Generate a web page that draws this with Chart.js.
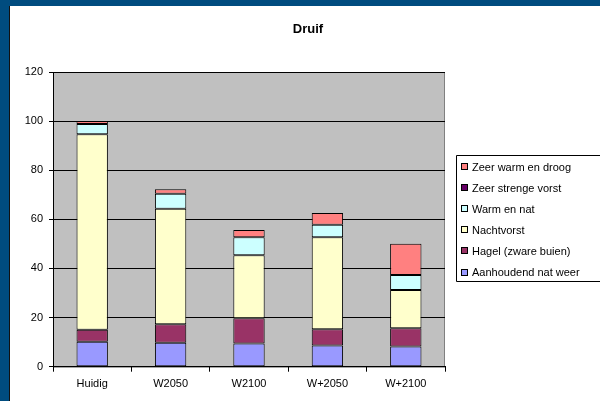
<!DOCTYPE html>
<html>
<head>
<meta charset="utf-8">
<script src="https://cdn.jsdelivr.net/npm/chart.js@4/dist/chart.umd.min.js"></script>
<style>
  html, body { margin: 0; padding: 0; background: #004c7f; overflow: hidden; width: 600px; height: 401px; }
  #frame { position: absolute; left: 9px; top: 6px; width: 591px; height: 395px; background: #fff; border-left: 1px solid #111; overflow: hidden; }
  #wrap { position: absolute; left: 0; top: 0; width: 591px; height: 395px; }
</style>
</head>
<body>
<div id="frame"><div id="wrap"><canvas id="chart"></canvas></div></div>
<script>
// categories and series
const categories = ['Huidig', 'W2050', 'W2100', 'W+2050', 'W+2100'];
const aanhoudendNat = [10.2, 9.8, 9.4, 8.6, 8.2];
const hagel = [4.8, 7.5, 10.3, 6.6, 7.5];
const nachtvorst = [79.7, 47.0, 25.7, 37.5, 15.5];
const warmNat = [4.1, 6.1, 7.3, 5.1, 6.1];
const zeerStrengeVorst = [0, 0, 0, 0, 0];
const zeerWarmDroog = [1.2, 1.9, 3.0, 4.8, 12.8];
const yTicks = [0, 20, 40, 60, 80, 100, 120];

const FONT = 'Arial, "Liberation Sans", sans-serif';

const series = [
    { label: 'Aanhoudend nat weer', data: aanhoudendNat, color: '#9999ff' },
    { label: 'Hagel (zware buien)', data: hagel, color: '#993366' },
    { label: 'Nachtvorst', data: nachtvorst, color: '#ffffcc' },
    { label: 'Warm en nat', data: warmNat, color: '#ccffff' },
    { label: 'Zeer strenge vorst', data: zeerStrengeVorst, color: '#660066' },
    { label: 'Zeer warm en droog', data: zeerWarmDroog, color: '#ff8080' },
];

// grey plot area, title and boxed legend
const excelLook = {
    id: 'excelLook',
    beforeDraw(chart) {
        const { ctx, chartArea: a } = chart;
        ctx.save();
        ctx.fillStyle = '#c0c0c0';
        ctx.fillRect(a.left, a.top, a.right - a.left, a.bottom - a.top);
        ctx.strokeStyle = '#808080';
        ctx.lineWidth = 1;
        ctx.strokeRect(a.left + 0.5, a.top + 0.5, a.right - a.left - 1, a.bottom - a.top);
        ctx.restore();
    },
    afterDraw(chart) {
        const ctx = chart.ctx;
        ctx.save();
        ctx.fillStyle = '#000';
        ctx.font = 'bold 13px ' + FONT;
        ctx.textAlign = 'center';
        ctx.textBaseline = 'middle';
        ctx.fillText('Druif', 298, 23);

        // legend box: top, left and bottom only, its right side runs off the picture
        ctx.strokeStyle = '#000';
        ctx.lineWidth = 1;
        ctx.beginPath();
        ctx.moveTo(chart.width + 5, 149.5);
        ctx.lineTo(446.5, 149.5);
        ctx.lineTo(446.5, 275.5);
        ctx.lineTo(chart.width + 5, 275.5);
        ctx.stroke();
        ctx.font = '11px ' + FONT;
        ctx.textAlign = 'left';
        const items = chart.data.datasets.slice().reverse();
        items.forEach((ds, i) => {
            const cy = 161 + i * 21.1;
            ctx.fillStyle = ds.backgroundColor;
            ctx.fillRect(451.5, Math.round(cy) - 3.5, 6, 6);
            ctx.strokeRect(451.5, Math.round(cy) - 3.5, 6, 6);
            ctx.fillStyle = '#000';
            ctx.fillText(ds.label, 462, cy + 0.5);
        });
        ctx.restore();
    },
};

new Chart(document.getElementById('chart'), {
    type: 'bar',
    data: {
        labels: categories,
        datasets: series.map((s) => ({
            label: s.label,
            data: s.data,
            backgroundColor: s.color,
            borderColor: '#000',
            // an all-zero series would otherwise leave a doubled line on the stack top
            borderWidth: s.data.every((v) => v === 0) ? 0 : 1,
            borderSkipped: false,
            categoryPercentage: 1,
            barPercentage: 0.4,
        })),
    },
    options: {
        responsive: true,
        maintainAspectRatio: false,
        animation: false,
        devicePixelRatio: 1,
        layout: { padding: { left: 0, right: 156, top: 66, bottom: 0 } },
        plugins: {
            legend: { display: false },
            title: { display: false },
            tooltip: { enabled: false },
        },
        scales: {
            x: {
                stacked: true,
                afterFit(scale) { scale.height = 34.3; },
                grid: { offset: true, drawOnChartArea: false, drawTicks: true, tickLength: 5, color: '#000' },
                border: { display: true, color: '#000', width: 1 },
                ticks: { color: '#000', font: { family: FONT, size: 11 }, padding: 6, maxRotation: 0 },
            },
            y: {
                stacked: true,
                min: 0,
                max: 120,
                afterFit(scale) { scale.width = 43; },
                afterBuildTicks(scale) { scale.ticks = yTicks.map((v) => ({ value: v })); },
                grid: { color: '#000', lineWidth: 1, drawTicks: true, tickLength: 4 },
                border: { display: true, color: '#000', width: 1 },
                ticks: { color: '#000', font: { family: FONT, size: 11 }, padding: 6 },
            },
        },
    },
    plugins: [excelLook],
});
</script>
</body>
</html>
